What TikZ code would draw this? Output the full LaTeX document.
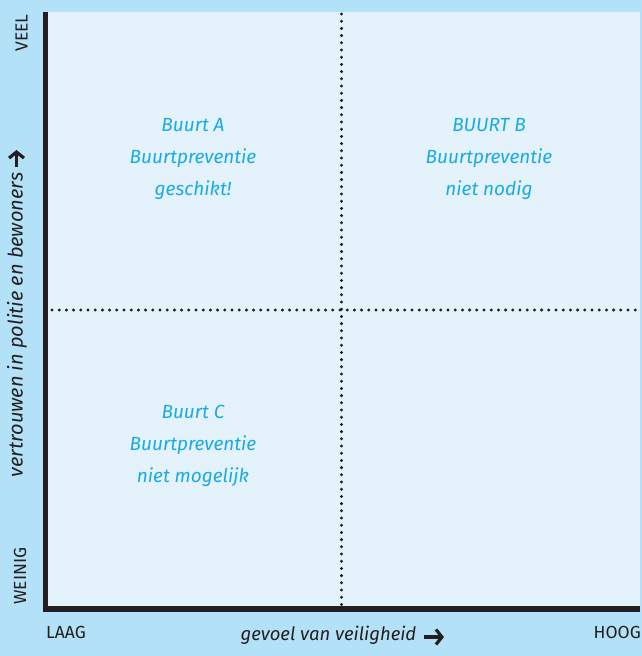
\documentclass[tikz,border=0pt]{standalone}
\usepackage{fontspec}
\usetikzlibrary{arrows.meta}
\setmainfont{Fira Sans}
\definecolor{outerbg}{HTML}{B3E1F7}
\definecolor{innerbg}{HTML}{E4F2FB}
\definecolor{quadblue}{HTML}{1AAAE6}
\definecolor{inkdark}{HTML}{231F20}
\begin{document}
\begin{tikzpicture}[x=1pt,y=-1pt,
  quadtext/.style={text=quadblue, font=\fontsize{19}{32}\selectfont\itshape, align=center, inner sep=0pt},
  endlabel/.style={text=inkdark, font=\fontsize{17.5}{20}\selectfont\fontseries{l}\selectfont, inner sep=0pt},
  axislabel/.style={text=inkdark, font=\fontsize{18.5}{20}\selectfont\itshape, inner sep=0pt},
  axisline/.style={draw=inkdark, line width=5.5pt},
  titlearrow/.style={draw=inkdark, line width=3.2pt, -{Straight Barb[length=6pt,width=15pt,line width=3.2pt]}},
  dotline/.style={draw=inkdark, line width=3.3pt, line cap=round, dash pattern=on 0pt off 7.2pt}]
\useasboundingbox (0,0) rectangle (642,656);
\fill[outerbg] (0,0) rectangle (642,656);
\fill[innerbg] (45,12) rectangle (640,609);
% dotted dividers
\coordinate (vtop) at (341.5,14);
\coordinate (vbot) at (341.5,605);
\coordinate (hleft) at (52,310);
\coordinate (hright) at (640,310);
\draw[dotline] (vtop) -- (vbot);
\draw[dotline] (hleft) -- (hright);
% axes
\coordinate (ytop) at (45.5,12);
\coordinate (origin) at (45.5,609);
\coordinate (xstart) at (43,609);
\coordinate (xend) at (640,609);
\draw[axisline] (ytop) -- (origin);
\draw[axisline] (xstart) -- (xend);
% quadrant texts
\node[quadtext, anchor=base] (qa) at (193,195) {Buurt A\\Buurtpreventie\\geschikt!};
\node[quadtext, anchor=base] (qb) at (489,195) {BUURT B\\Buurtpreventie\\niet nodig};
\node[quadtext, anchor=base] (qc) at (193,482) {Buurt C\\Buurtpreventie\\niet mogelijk};
% end labels
\node[endlabel, rotate=90] (veel) at (21.5,33) {VEEL};
\node[endlabel, rotate=90] (weinig) at (20,576) {WEINIG};
\node[endlabel, anchor=west] (laag) at (46,632) {LAAG};
\node[endlabel, anchor=east] (hoog) at (641,632) {HOOG};
% axis titles
\node[axislabel, rotate=90, font=\fontsize{20}{24}\selectfont\itshape] (ylab) at (17,325) {vertrouwen in politie en bewoners};
\node[axislabel] (xlab) at (328.5,635) {gevoel van veiligheid};
\coordinate (yarrowfrom) at (16.5,167);
\coordinate (yarrowto) at (16.5,150);
\coordinate (xarrowfrom) at (424,637);
\coordinate (xarrowto) at (444,637);
\draw[titlearrow] (yarrowfrom) -- (yarrowto);
\draw[titlearrow] (xarrowfrom) -- (xarrowto);
\end{tikzpicture}
\end{document}
